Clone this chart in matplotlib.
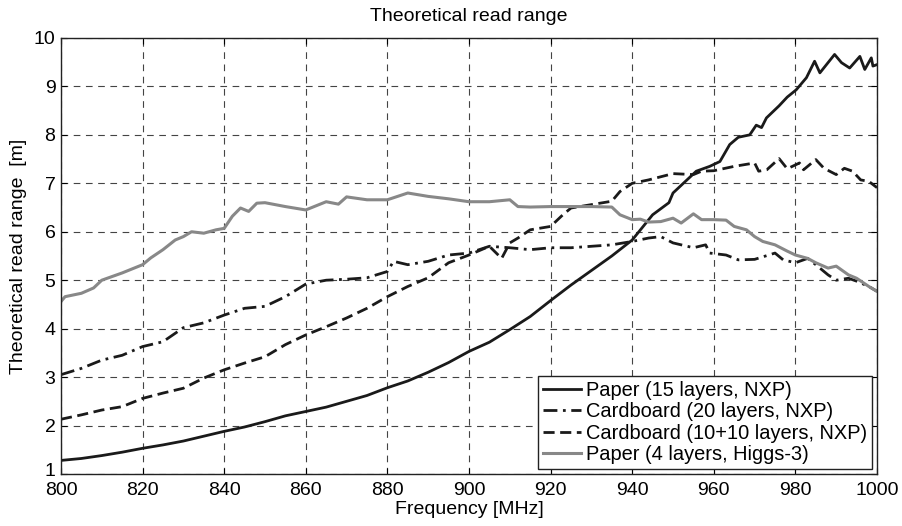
import matplotlib
matplotlib.use("Agg")
import matplotlib.pyplot as plt
import matplotlib.transforms as mtransforms

plt.rcParams['font.family'] = ['Liberation Sans', 'DejaVu Sans']

# Paper (15 layers, NXP)
f_paper15 = [800, 805, 810, 815, 820, 825, 830, 835, 840, 845, 850, 855, 860, 865, 870,
             875, 880, 885, 890, 895, 900, 905, 910, 915, 920, 925, 930, 935, 940, 945,
             949, 950, 955.7, 959, 961.5, 963.9, 966, 968.8, 970.4, 971.7, 972.9, 976,
             978, 980.2, 982.7, 984.7, 986, 989.6, 991.3, 993.3, 995.8, 997, 998.6, 999, 1000]
r_paper15 = [1.28, 1.32, 1.38, 1.45, 1.53, 1.60, 1.68, 1.78, 1.88, 1.97, 2.08, 2.20, 2.29, 2.38, 2.50,
             2.62, 2.78, 2.92, 3.10, 3.30, 3.53, 3.72, 3.98, 4.25, 4.58, 4.90, 5.20, 5.50, 5.83, 6.35,
             6.60, 6.80, 7.25, 7.35, 7.45, 7.80, 7.95, 8.00, 8.20, 8.15, 8.35, 8.60,
             8.78, 8.93, 9.18, 9.52, 9.28, 9.66, 9.49, 9.38, 9.62, 9.35, 9.59, 9.42, 9.45]

# Cardboard (20 layers, NXP)
f_card20 = [800, 805, 810, 815, 820, 825, 830, 835, 840, 845, 850, 855, 860, 865, 870,
            875, 880, 881.5, 885, 890, 895, 900, 905, 910, 915, 920, 925, 930, 935, 940,
            944, 947, 950, 955, 958, 959, 963, 966, 970, 975, 977, 980, 983, 985, 988,
            990, 993, 995, 998, 1000]
r_card20 = [3.05, 3.18, 3.35, 3.45, 3.63, 3.73, 4.02, 4.12, 4.28, 4.42, 4.46, 4.66, 4.92, 5.00, 5.02,
            5.05, 5.18, 5.39, 5.32, 5.39, 5.52, 5.56, 5.70, 5.67, 5.63, 5.67, 5.67, 5.70, 5.73, 5.80,
            5.87, 5.90, 5.77, 5.67, 5.73, 5.56, 5.52, 5.42, 5.43, 5.56, 5.42, 5.36, 5.45, 5.32, 5.11,
            5.00, 5.04, 4.98, 4.87, 4.77]

# Cardboard (10+10 layers, NXP)
f_card1010 = [800, 805, 810, 815, 820, 825, 830, 835, 840, 845, 850, 855, 860, 865, 870,
              875, 880, 885, 890, 895, 900, 905, 908, 910, 912, 915, 920, 923, 925, 930,
              935, 937, 940, 944, 950, 955, 957, 960, 965, 970, 971, 973, 976, 978, 981,
              982, 985, 987, 990, 992, 994, 996, 998, 1000]
r_card1010 = [2.13, 2.22, 2.32, 2.39, 2.56, 2.67, 2.77, 2.98, 3.15, 3.29, 3.42, 3.67, 3.87, 4.04, 4.22,
              4.42, 4.66, 4.87, 5.05, 5.36, 5.52, 5.70, 5.45, 5.77, 5.87, 6.04, 6.11, 6.35, 6.49, 6.56,
              6.63, 6.83, 7.00, 7.07, 7.20, 7.18, 7.25, 7.26, 7.35, 7.42, 7.25, 7.28, 7.51, 7.30, 7.42,
              7.28, 7.49, 7.31, 7.18, 7.31, 7.25, 7.07, 7.04, 6.91]

# Paper (4 layers, Higgs-3)
f_paper4 = [800, 801, 805, 808, 810, 815, 820, 822, 825, 828, 830, 832, 835, 838, 840,
            842, 844, 846, 848, 850, 855, 860, 865, 868, 870, 875, 880, 885, 890, 895,
            900, 905, 910, 912, 915, 920, 925, 930, 935, 937, 940, 942, 944, 947, 950,
            952, 955, 957, 960, 963, 965, 968, 970, 972, 975, 978, 980, 983, 985, 988,
            990, 993, 995, 998, 1000]
r_paper4 = [4.56, 4.66, 4.73, 4.84, 5.00, 5.15, 5.32, 5.46, 5.63, 5.83, 5.90, 6.00, 5.97, 6.04, 6.07,
            6.32, 6.49, 6.42, 6.59, 6.60, 6.52, 6.45, 6.62, 6.57, 6.72, 6.66, 6.66, 6.80, 6.73, 6.68,
            6.62, 6.62, 6.66, 6.52, 6.51, 6.52, 6.52, 6.52, 6.51, 6.35, 6.25, 6.26, 6.20, 6.21, 6.28,
            6.18, 6.37, 6.25, 6.25, 6.24, 6.11, 6.04, 5.90, 5.80, 5.73, 5.60, 5.52, 5.45, 5.36, 5.25,
            5.29, 5.11, 5.04, 4.87, 4.77]

labels = ["Paper (15 layers, NXP)", "Cardboard (20 layers, NXP)",
          "Cardboard (10+10 layers, NXP)", "Paper (4 layers, Higgs-3)"]
x_ticks = [800, 820, 840, 860, 880, 900, 920, 940, 960, 980, 1000]
y_ticks = [1, 2, 3, 4, 5, 6, 7, 8, 9, 10]

fig = plt.figure(figsize=(9.02, 5.26), dpi=100)
ax = fig.add_axes([0.0676, 0.0989, 0.9047, 0.8289])

ax.plot(f_paper15, r_paper15, color='#1a1a1a', lw=2.0, ls='-', label=labels[0])
ax.plot(f_card20, r_card20, color='#1a1a1a', lw=2.0, ls=(0, (5, 2, 1, 2)), label=labels[1])
ax.plot(f_card1010, r_card1010, color='#1a1a1a', lw=2.0, ls=(0, (4, 2)), label=labels[2])
ax.plot(f_paper4, r_paper4, color='#888888', lw=2.2, ls='-', label=labels[3])

ax.set_xlim(800, 1000)
ax.set_ylim(1, 10)
ax.set_xticks(x_ticks)
ax.set_yticks(y_ticks)
ax.tick_params(direction='in', labelsize=14, length=4, width=0.8, top=True, right=True)
ax.tick_params(axis='x', pad=6)
ax.tick_params(axis='y', pad=4)
ax.grid(True, color='#444444', ls=(0, (6, 5)), lw=0.8)
for s in ax.spines.values():
    s.set_linewidth(1.0)
    s.set_color('#222222')

# nudge the lowest y tick label up a little so it does not collide with "800"
fig.canvas.draw()
ylab0 = ax.get_yticklabels()[0]
ylab0.set_transform(ylab0.get_transform() +
                    mtransforms.ScaledTranslation(0, 3 / 72, fig.dpi_scale_trans))

ax.set_title("Theoretical read range", fontsize=14, pad=12)
ax.set_xlabel("Frequency [MHz]", fontsize=14, labelpad=1)
ax.set_ylabel("Theoretical read range  [m]", fontsize=14, labelpad=5)

leg = ax.legend(loc='lower right', fontsize=14.4, frameon=True, fancybox=False,
                edgecolor='#222222', framealpha=1, borderpad=0.25, labelspacing=0.12,
                handlelength=1.9, handletextpad=0.25, borderaxespad=0.25)
leg.get_frame().set_linewidth(1.0)

fig.savefig("out.png", dpi=100)
